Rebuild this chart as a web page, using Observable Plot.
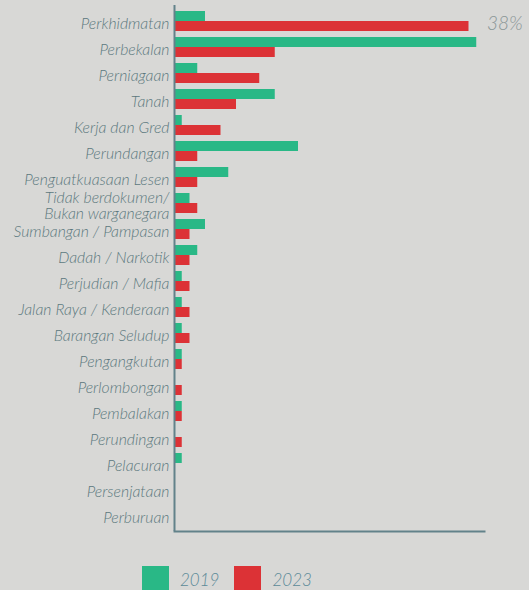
<!DOCTYPE html>
<html><head><meta charset="utf-8">
<script src="https://cdn.jsdelivr.net/npm/d3@7"></script>
<script src="https://cdn.jsdelivr.net/npm/@observablehq/plot@0.6"></script>
<style>
html,body{margin:0;padding:0;background:#d8d8d6;}
body{width:529px;height:590px;overflow:hidden;font-family:Lato,"Open Sans",sans-serif;}
#chart svg{display:block;}
#chart g[aria-label="y-axis tick label"] text{font-style:italic;}
#legend{display:flex;align-items:center;margin-top:26px;padding-left:142px;height:27px;}
#legend .sw{width:27px;height:27px;display:inline-block;}
#legend .lb{font-style:italic;font-weight:300;font-size:17px;color:#5b8a98;margin-left:11px;margin-right:15px;line-height:27px;}
</style></head>
<body>
<div id="chart"></div>
<div id="legend"></div>
<script>
const categories = ["Perkhidmatan","Perbekalan","Perniagaan","Tanah","Kerja dan Gred","Perundangan","Penguatkuasaan Lesen","Tidak berdokumen/\nBukan warganegara","Sumbangan / Pampasan","Dadah / Narkotik","Perjudian / Mafia","Jalan Raya / Kenderaan","Barangan Seludup","Pengangkutan","Perlombongan","Pembalakan","Perundingan","Pelacuran","Persenjataan","Perburuan"];
const years = ["2019","2023"];
const v2019 = [4,39,3,13,1,16,7,2,4,3,1,1,1,1,0,1,0,1,0,0];
const v2023 = [38,13,11,8,6,3,3,3,2,2,2,2,2,1,1,1,1,0,0,0];
const colors = ["#29b886","#dc3236"];

const rows = categories.flatMap((c,i)=>[
  {category:c, year:years[0], value:v2019[i]},
  {category:c, year:years[1], value:v2023[i]}
]);
const topRow = rows.filter(d=>d.category===categories[0] && d.year===years[1]);

const chart = Plot.plot({
  width:529, height:540,
  marginTop:5, marginBottom:9, marginLeft:174, marginRight:45,
  style:{background:"transparent", fontFamily:"Lato, 'Open Sans', sans-serif"},
  x:{domain:[0,40], axis:null},
  y:{domain:categories, paddingInner:0.24, paddingOuter:0.12, label:null, axis:null},
  color:{domain:years, range:colors},
  marks:[
    Plot.barX(rows.filter(d=>d.year===years[0]), {x:"value", y:"category", fill:"year", insetBottom:10}),
    Plot.barX(rows.filter(d=>d.year===years[1]), {x:"value", y:"category", fill:"year", insetTop:10}),
    Plot.ruleX([0], {stroke:"#62828a", strokeWidth:2}),
    Plot.frame({anchor:"bottom", stroke:"#62828a", strokeWidth:2}),
    Plot.axisY({tickSize:0, tickPadding:5, fontSize:15.8, lineHeight:1.02, fill:"#5c787e", fontWeight:300, dy:2, label:null}),
    Plot.text(topRow, {x:"value", y:"category", text:d=>d.value+"%", textAnchor:"start", dx:18, dy:2, fontSize:19, fill:"#8a9696", fontStyle:"italic", fontWeight:300})
  ]
});
document.getElementById("chart").append(chart);

const legend = document.getElementById("legend");
years.forEach((y,i)=>{
  const sw = document.createElement("span"); sw.className="sw"; sw.style.background=colors[i];
  const lb = document.createElement("span"); lb.className="lb"; lb.textContent=y;
  legend.append(sw, lb);
});
</script>
</body></html>
